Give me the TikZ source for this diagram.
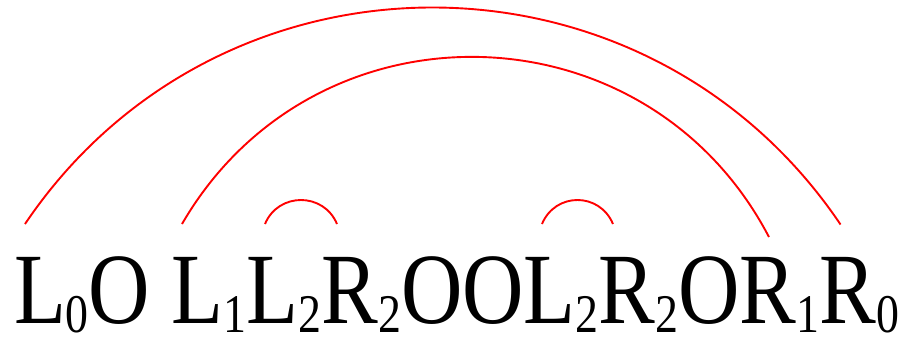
\documentclass[tikz,border=0pt]{standalone}
\usepackage{fontspec}
\setmainfont{Liberation Serif}
\newfontfamily\bigserif[FakeStretch=0.842]{Liberation Serif}
\usetikzlibrary{calc}
\newcommand\subd[1]{\raisebox{-8.5pt}{\fontsize{54.5}{60}\selectfont #1}}
\newcommand\glyph[2]{\bigserif\fontsize{101}{110}\selectfont #1\subd{#2}}
\begin{document}
\begin{tikzpicture}[x=1pt,y=-1pt,
  tok/.style={inner sep=0pt, outer sep=0pt, anchor=base west},
  link/.style={draw=red, line width=1.9pt}]
\useasboundingbox (0,0) rectangle (914,338);
% letters
\node[tok] (L0) at (14,323.5) {\glyph{L}{0}};
\node[tok] (O1) at (L0.base east) {\glyph{O}{}};
\node[tok] (L1) at ([xshift=21.3pt]O1.base east) {\glyph{L}{1}};
\node[tok] (L2) at (L1.base east) {\glyph{L}{2}};
\node[tok] (R2) at (L2.base east) {\glyph{R}{2}};
\node[tok] (O2) at (R2.base east) {\glyph{O}{}};
\node[tok] (O3) at (O2.base east) {\glyph{O}{}};
\node[tok] (L2b) at (O3.base east) {\glyph{L}{2}};
\node[tok] (R2b) at (L2b.base east) {\glyph{R}{2}};
\node[tok] (O4) at (R2b.base east) {\glyph{O}{}};
\node[tok] (R1) at (O4.base east) {\glyph{R}{1}};
\node[tok] (R0) at (R1.base east) {\glyph{R}{0}};
% arcs
\draw[link] ($(L0.base west)+(11,-99.5)$) .. controls +(195,-289) and +(-195,-289) .. ($(R0.base west)+(21,-99)$);
\draw[link] ($(L1.base west)+(10.4,-99.5)$) .. controls +(132.6,-228.6) and +(-122.4,-234.2) .. ($(R1.base west)+(29.1,-86.5)$);
\draw[link] ($(L2.base west)+(18.5,-99.5)$) .. controls +(13.3,-32) and +(-13.3,-32) .. ($(R2.base west)+(15.6,-99.5)$);
\draw[link] ($(L2b.base west)+(18.1,-99.5)$) .. controls +(13.3,-32) and +(-13.3,-32) .. ($(R2b.base west)+(14.2,-99.5)$);
\end{tikzpicture}
\end{document}
